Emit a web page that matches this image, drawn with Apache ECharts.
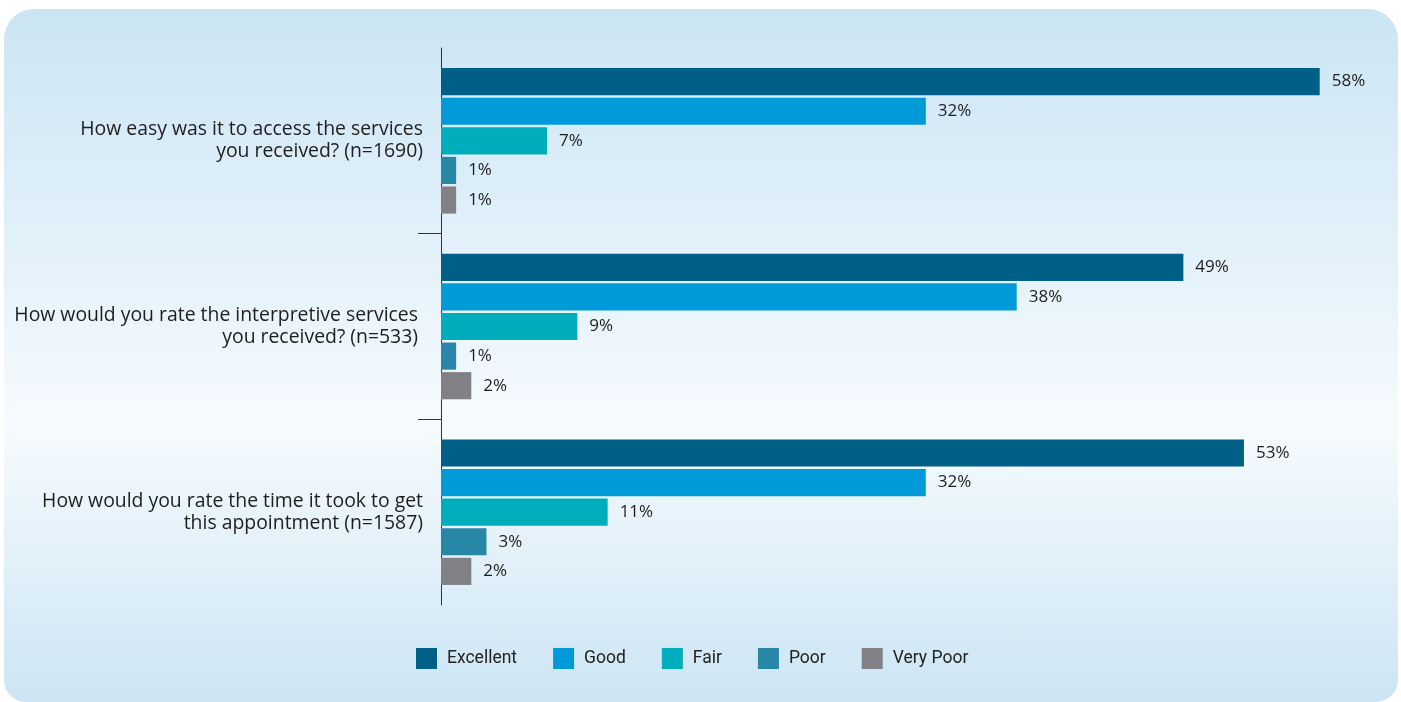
<!DOCTYPE html>
<html>
<head>
<meta charset="utf-8">
<title>Service ratings</title>
<script src="https://cdn.jsdelivr.net/npm/echarts@6/dist/echarts.min.js"></script>
<style>
  html, body { margin: 0; padding: 0; background: #ffffff; }
  #panel {
    position: absolute; left: 4px; top: 9px; width: 1394px; height: 693px;
    border-radius: 30px 30px 22px 22px;
    background: linear-gradient(to bottom, #cbe5f4 0%, #e3f1fa 35%, #f6fbfe 60%, #e1f0f9 80%, #cce5f4 100%);
  }
  #chart { position: absolute; left: 0; top: 0; width: 1401px; height: 702px; }
</style>
</head>
<body>
<div id="panel"></div>
<div id="chart"></div>
<script>
// Survey questions shown on the category axis
const questions = [
  'How easy was it to access the services\nyou received? (n=1690)',
  'How would you rate the interpretive services \nyou received? (n=533) ',
  'How would you rate the time it took to get\nthis appointment (n=1587)'
];

// Percentage of respondents per rating
const excellent = [58, 49, 53];
const good      = [32, 38, 32];
const fair      = [7, 9, 11];
const poor      = [1, 1, 3];
const veryPoor  = [1, 2, 2];

const ratingNames  = ['Excellent', 'Good', 'Fair', 'Poor', 'Very Poor'];
const ratingValues = [excellent, good, fair, poor, veryPoor];
const ratingColors = ['#005f86', '#009ad8', '#00adbc', '#2886a6', '#818185'];

// Boundaries between question groups on the helper axis
const groupDividers = [1, 2];

const chart = echarts.init(document.getElementById('chart'), null, { renderer: 'canvas' });

const labelFont = '"Open Sans", "Liberation Sans", sans-serif';

const series = ratingNames.map((name, i) => ({
  name: name,
  type: 'bar',
  yAxisIndex: 0,
  data: ratingValues[i],
  itemStyle: { color: ratingColors[i] },
  barCategoryGap: '21.6%',
  barGap: '9%',
  label: {
    show: true,
    position: 'right',
    distance: 12,
    formatter: '{c}%',
    color: '#1e1e1e',
    fontSize: 17,
    fontFamily: labelFont
  }
}));

chart.setOption({
  backgroundColor: 'transparent',
  animation: false,
  grid: { left: 441, top: 48, width: 909, height: 557, containLabel: false },
  legend: {
    data: ratingNames,
    left: 411,
    top: 643,
    itemWidth: 21,
    itemHeight: 21,
    itemGap: 36,
    icon: 'rect',
    textStyle: { color: '#222222', fontSize: 17.5, fontFamily: 'Roboto, sans-serif', padding: [0, 0, 0, 5] }
  },
  xAxis: {
    type: 'value',
    min: 0,
    max: 60,
    show: false
  },
  yAxis: [
    {
      type: 'category',
      data: questions,
      inverse: true,
      position: 'left',
      axisLine: { show: true, lineStyle: { color: '#333333', width: 1 } },
      axisTick: { show: false },
      axisLabel: {
        margin: 18,
        color: '#1e1e1e',
        fontSize: 19.4,
        lineHeight: 22,
        align: 'right',
        fontFamily: labelFont
      }
    },
    {
      type: 'value',
      min: 0,
      max: 3,
      inverse: true,
      position: 'left',
      axisLine: { show: false },
      axisLabel: { show: false },
      splitLine: { show: false },
      axisTick: {
        show: true,
        customValues: groupDividers,
        length: 23,
        lineStyle: { color: '#333333', width: 1 }
      }
    }
  ],
  series: series
});
</script>
</body>
</html>
